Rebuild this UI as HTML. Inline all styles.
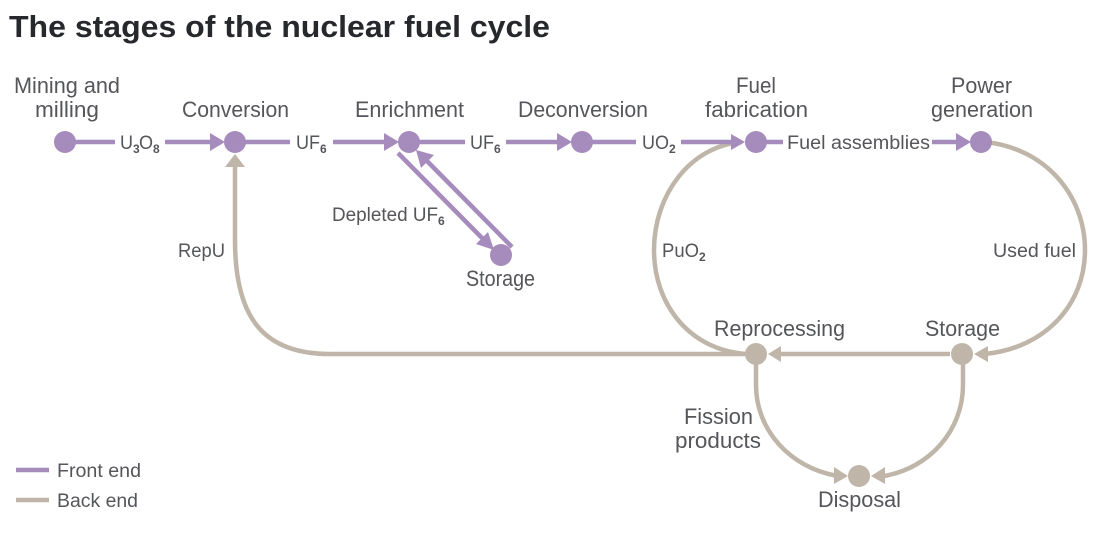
<!DOCTYPE html>
<html><head><meta charset="utf-8"><style>
html,body{margin:0;padding:0;background:#fff}
svg{display:block}
text{font-family:"Liberation Sans",sans-serif;font-size:22px;fill:#55565a}
.m{font-size:19px}
.s{font-size:12px;font-weight:bold}
.p{stroke:#a68bbd;stroke-width:4.5;fill:none}
.b{stroke:#bfb6a9;stroke-width:4.5;fill:none}
.pf{fill:#a68bbd}.bf{fill:#bfb6a9}
</style></head><body>
<svg width="1106" height="540" viewBox="0 0 1106 540" xmlns="http://www.w3.org/2000/svg">
<text x="9" y="37" textLength="541" lengthAdjust="spacingAndGlyphs" style="font-size:31px;font-weight:bold;fill:#26282c">The stages of the nuclear fuel cycle</text>

<!-- back end -->
<path class="b" d="M235 165V240C235 320 265 354 330 354H746"/>
<path class="b" d="M742 142C690 146 654 195 654 250C654 305 690 350 746 354"/>
<path class="b" d="M985 142C1045 148 1085 195 1085 250C1085 305 1045 348 985 354"/>
<path class="b" d="M950 354H780"/>
<path class="b" d="M756 364V385C756 430 790 468 838 476"/>
<path class="b" d="M963 364V385C963 430 930 468 884 476"/>
<polygon class="bf" points="235,154 245,167 225,167"/>
<polygon class="bf" points="768,354 781,346 781,362"/>
<polygon class="bf" points="974,354 988,346 988,362"/>
<polygon class="bf" points="848,476 834,467 834,484"/>
<polygon class="bf" points="871,476 885,467 885,484"/>
<circle class="bf" cx="756" cy="354" r="11"/>
<circle class="bf" cx="962" cy="354" r="11"/>
<circle class="bf" cx="859" cy="476" r="11"/>

<!-- front end -->
<path class="p" d="M70 142H115M165 142H215M240 142H290M333 142H388M414 142H465M506 142H560M587 142H636M681 142H735M761 142H783M932 142H960"/>
<path class="p" d="M398 153L484 240M512 247L425 159"/>
<polygon class="pf" points="225,142 210,133 210,151"/>
<polygon class="pf" points="399,142 384,133 384,151"/>
<polygon class="pf" points="572,142 557,133 557,151"/>
<polygon class="pf" points="745,142 731,134 731,150"/>
<polygon class="pf" points="971,142 956,133 956,151"/>
<polygon class="pf" points="494,250 476,244 488,232"/>
<polygon class="pf" points="416,150 434,155 421,168"/>
<circle class="pf" cx="65" cy="142" r="11"/>
<circle class="pf" cx="235" cy="142" r="11"/>
<circle class="pf" cx="409" cy="142" r="11"/>
<circle class="pf" cx="582" cy="142" r="11"/>
<circle class="pf" cx="756" cy="142" r="11"/>
<circle class="pf" cx="981" cy="142" r="11"/>
<circle class="pf" cx="501" cy="255" r="11"/>

<!-- labels -->
<text x="14" y="93" textLength="106" lengthAdjust="spacingAndGlyphs">Mining and</text>
<text x="35" y="117" textLength="64" lengthAdjust="spacingAndGlyphs">milling</text>
<text x="182" y="117" textLength="107" lengthAdjust="spacingAndGlyphs">Conversion</text>
<text x="355" y="117" textLength="109" lengthAdjust="spacingAndGlyphs">Enrichment</text>
<text x="518" y="117" textLength="130" lengthAdjust="spacingAndGlyphs">Deconversion</text>
<text x="736" y="93" textLength="40" lengthAdjust="spacingAndGlyphs">Fuel</text>
<text x="705" y="117" textLength="103" lengthAdjust="spacingAndGlyphs">fabrication</text>
<text x="951" y="93" textLength="61" lengthAdjust="spacingAndGlyphs">Power</text>
<text x="931" y="117" textLength="102" lengthAdjust="spacingAndGlyphs">generation</text>

<text class="m" x="120" y="149" textLength="13" lengthAdjust="spacingAndGlyphs">U</text><text x="133" y="153" class="s">3</text><text class="m" x="139" y="149" textLength="14" lengthAdjust="spacingAndGlyphs">O</text><text x="153" y="153" class="s">8</text>
<text class="m" x="296" y="149" textLength="24" lengthAdjust="spacingAndGlyphs">UF</text><text x="320" y="153" class="s">6</text>
<text class="m" x="470" y="149" textLength="24" lengthAdjust="spacingAndGlyphs">UF</text><text x="494" y="153" class="s">6</text>
<text class="m" x="642" y="149" textLength="27" lengthAdjust="spacingAndGlyphs">UO</text><text x="669" y="153" class="s">2</text>
<text class="m" x="787" y="149" textLength="143" lengthAdjust="spacingAndGlyphs">Fuel assemblies</text>
<text class="m" x="332" y="221" textLength="106" lengthAdjust="spacingAndGlyphs">Depleted UF</text><text x="438" y="225" class="s">6</text>
<text class="m" x="178" y="257" textLength="47" lengthAdjust="spacingAndGlyphs">RepU</text>
<text class="m" x="662" y="257" textLength="37" lengthAdjust="spacingAndGlyphs">PuO</text><text x="699" y="261" class="s">2</text>
<text class="m" x="993" y="257" textLength="83" lengthAdjust="spacingAndGlyphs">Used fuel</text>
<text class="m" x="57" y="477" textLength="84" lengthAdjust="spacingAndGlyphs">Front end</text>
<text class="m" x="57" y="507" textLength="81" lengthAdjust="spacingAndGlyphs">Back end</text>

<text x="466" y="286" textLength="69" lengthAdjust="spacingAndGlyphs">Storage</text>
<text x="714" y="336" textLength="131" lengthAdjust="spacingAndGlyphs">Reprocessing</text>
<text x="925" y="336" textLength="75" lengthAdjust="spacingAndGlyphs">Storage</text>
<text x="684" y="424" textLength="69" lengthAdjust="spacingAndGlyphs">Fission</text>
<text x="675" y="448" textLength="86" lengthAdjust="spacingAndGlyphs">products</text>
<text x="818" y="507" textLength="83" lengthAdjust="spacingAndGlyphs">Disposal</text>

<path class="p" d="M16 470H49"/>
<path class="b" d="M16 500H49"/>
</svg>
</body></html>
